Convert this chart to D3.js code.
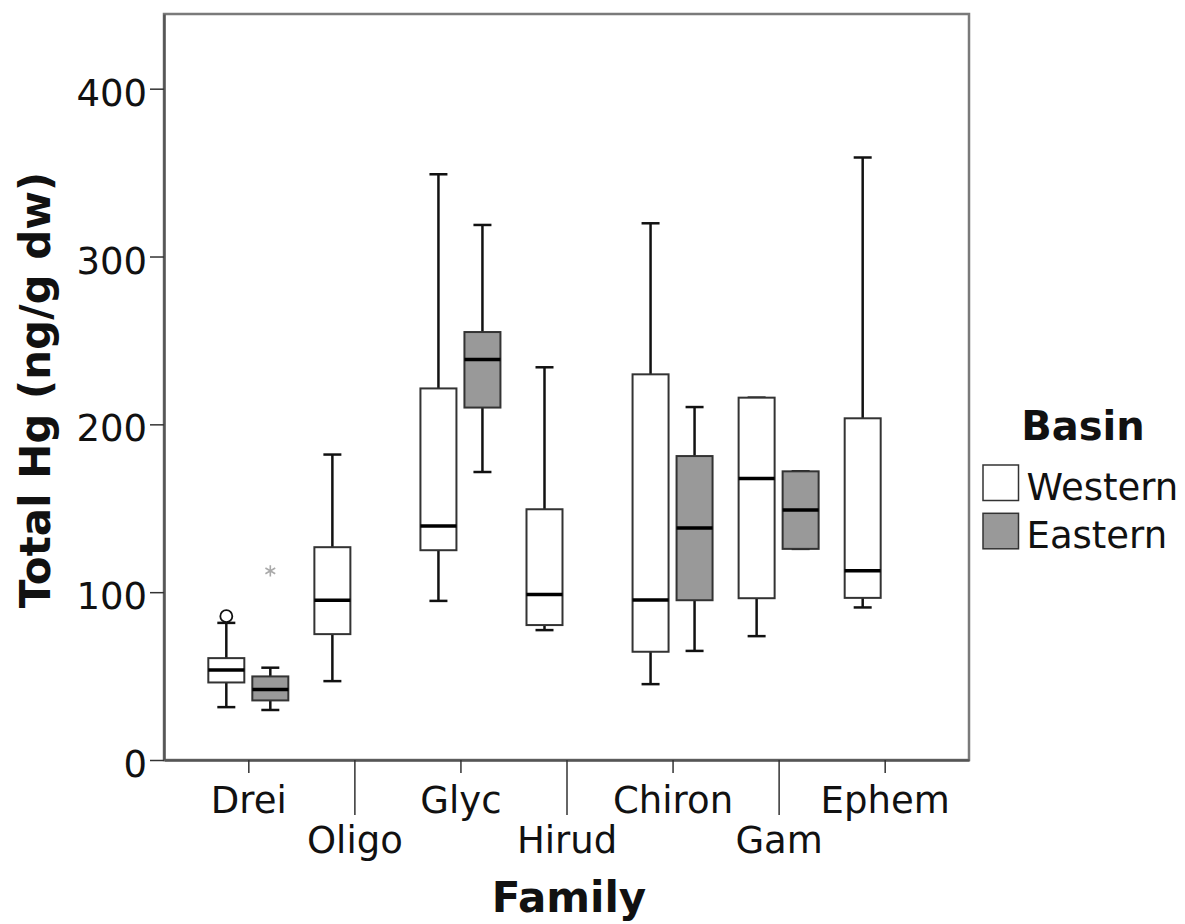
<!DOCTYPE html>
<html>
<head>
<meta charset="utf-8">
<script src="https://cdn.jsdelivr.net/npm/d3@7"></script>
<style>
  html, body { margin: 0; padding: 0; background: #fff; }
  svg { display: block; font-family: "DejaVu Sans", Verdana, sans-serif; }
</style>
</head>
<body>
<svg id="chart" width="1185" height="924"></svg>
<script>
// Total Hg by invertebrate family and basin (box plot summaries)
const categories = ["Drei", "Oligo", "Glyc", "Hirud", "Chiron", "Gam", "Ephem"];
const basins = ["Western", "Eastern"];
const yTicks = [0, 100, 200, 300, 400];

// one entry per box
const boxFamily   = ["Drei", "Drei", "Oligo", "Glyc", "Glyc", "Hirud", "Chiron", "Chiron", "Gam", "Gam", "Ephem"];
const boxBasin    = ["Western", "Eastern", "Western", "Western", "Eastern", "Western", "Western", "Eastern", "Western", "Eastern", "Western"];
const whiskerLow  = [31.5, 29.8, 47.0,  94.8, 171.6,  77.4,  45.2,  65.0,  73.8, 125.8,  90.9];
const q1          = [46.2, 35.5, 75.0, 125.0, 210.0,  80.4,  64.5,  95.2,  96.4, 125.8,  96.6];
const median      = [53.6, 42.0, 95.2, 139.5, 238.7,  98.6,  95.4, 138.3, 167.7, 149.0, 112.7];
const q3          = [60.7, 49.8, 126.8, 221.4, 255.0, 149.4, 229.8, 181.1, 215.9, 172.0, 203.6];
const whiskerHigh = [81.7, 55.0, 182.0, 349.0, 318.8, 234.0, 319.8, 210.3, 215.9, 172.0, 359.0];

// points beyond the whiskers
const outlierFamily = ["Drei", "Drei"];
const outlierBasin  = ["Western", "Eastern"];
const outlierValue  = [85.7, 112.7];
const outlierKind   = ["outlier", "extreme"];

const basinFill = { Western: "#ffffff", Eastern: "#999999" };

const svg = d3.select("#chart");
const plotLeft = 164, plotRight = 969, plotTop = 14, plotBottom = 760;

const x = d3.scalePoint().domain(categories).range([plotLeft, plotRight]).padding(0.795);
const xSub = d3.scaleBand().domain(basins).range([-44, 44])
  .paddingInner(1 - 36 / 44).paddingOuter(0.0909);
const y = d3.scaleLinear().domain([0, 444.5]).range([plotBottom, plotTop]);

svg.append("rect").attr("width", 1185).attr("height", 924).attr("fill", "#fff");

// plot frame
svg.append("rect")
  .attr("x", plotLeft).attr("y", plotTop)
  .attr("width", plotRight - plotLeft).attr("height", plotBottom - plotTop)
  .attr("fill", "none").attr("stroke", "#7a7a7a").attr("stroke-width", 2.5);

// y axis
const yAxis = svg.append("g")
  .attr("transform", `translate(${plotLeft},0)`)
  .call(d3.axisLeft(y).tickValues(yTicks).tickSize(14).tickSizeOuter(0).tickPadding(3));
yAxis.select(".domain").attr("stroke", "#555").attr("stroke-width", 2.5);
yAxis.selectAll(".tick line").attr("stroke", "#333").attr("stroke-width", 1.5);
yAxis.selectAll(".tick text")
  .attr("font-size", 37).attr("fill", "#111")
  .attr("font-family", "DejaVu Sans").attr("dy", "0.45em");

// x axis with staggered labels
const xAxis = svg.append("g")
  .attr("transform", `translate(0,${plotBottom})`)
  .call(d3.axisBottom(x).tickSizeOuter(0));
xAxis.select(".domain").attr("stroke", "#555").attr("stroke-width", 2.5);
xAxis.selectAll(".tick line")
  .attr("stroke", "#333").attr("stroke-width", 1.5)
  .attr("y2", (d, i) => i % 2 === 0 ? 13 : 55);
xAxis.selectAll(".tick text")
  .attr("font-size", 37).attr("fill", "#111")
  .attr("font-family", "DejaVu Sans")
  .attr("dy", 0)
  .attr("y", (d, i) => i % 2 === 0 ? 52.7 : 93);

// boxes
const boxes = boxFamily.map((f, i) => ({
  family: f, basin: boxBasin[i],
  lo: whiskerLow[i], q1: q1[i], med: median[i], q3: q3[i], hi: whiskerHigh[i]
}));
const bw = xSub.bandwidth();
const capW = bw / 2;
const cxOf = d => x(d.family) + xSub(d.basin) + bw / 2;

const g = svg.append("g");
const bx = g.selectAll("g.box").data(boxes).join("g").attr("class", "box");

// whiskers
bx.append("line")
  .attr("x1", cxOf).attr("x2", cxOf)
  .attr("y1", d => y(d.hi)).attr("y2", d => y(d.q3))
  .attr("stroke", "#111").attr("stroke-width", 2.5);
bx.append("line")
  .attr("x1", cxOf).attr("x2", cxOf)
  .attr("y1", d => y(d.q1)).attr("y2", d => y(d.lo))
  .attr("stroke", "#111").attr("stroke-width", 2.5);
bx.append("line")
  .attr("x1", d => cxOf(d) - capW / 2).attr("x2", d => cxOf(d) + capW / 2)
  .attr("y1", d => y(d.hi)).attr("y2", d => y(d.hi))
  .attr("stroke", "#111").attr("stroke-width", 2.5);
bx.append("line")
  .attr("x1", d => cxOf(d) - capW / 2).attr("x2", d => cxOf(d) + capW / 2)
  .attr("y1", d => y(d.lo)).attr("y2", d => y(d.lo))
  .attr("stroke", "#111").attr("stroke-width", 2.5);

// interquartile box
bx.append("rect")
  .attr("x", d => cxOf(d) - bw / 2).attr("width", bw)
  .attr("y", d => y(d.q3)).attr("height", d => y(d.q1) - y(d.q3))
  .attr("fill", d => basinFill[d.basin])
  .attr("stroke", "#333").attr("stroke-width", 2);

// median
bx.append("line")
  .attr("x1", d => cxOf(d) - bw / 2).attr("x2", d => cxOf(d) + bw / 2)
  .attr("y1", d => y(d.med)).attr("y2", d => y(d.med))
  .attr("stroke", "#000").attr("stroke-width", 3.5);

// outliers and extremes
const outs = outlierValue.map((v, i) => ({
  family: outlierFamily[i], basin: outlierBasin[i], value: v, kind: outlierKind[i]
}));
outs.forEach(o => {
  const cx = cxOf(o), cy = y(o.value);
  if (o.kind === "outlier") {
    g.append("circle").attr("cx", cx).attr("cy", cy).attr("r", 6)
      .attr("fill", "#fff").attr("stroke", "#111").attr("stroke-width", 1.8);
  } else {
    g.append("path")
      .attr("d", d3.symbol(d3.symbolAsterisk, 90)())
      .attr("transform", `translate(${cx},${cy})`)
      .attr("fill", "none").attr("stroke", "#aaa").attr("stroke-width", 1.6);
  }
});

// axis titles
svg.append("text")
  .attr("transform", "translate(50,390) rotate(-90)")
  .attr("text-anchor", "middle")
  .attr("font-size", 42).attr("font-weight", "bold").attr("fill", "#111")
  .text("Total Hg (ng/g dw)");
svg.append("text")
  .attr("x", 569).attr("y", 912)
  .attr("text-anchor", "middle")
  .attr("font-size", 42).attr("font-weight", "bold").attr("fill", "#111")
  .text("Family");

// legend
const legend = svg.append("g");
legend.append("text")
  .attr("x", 1083).attr("y", 440).attr("text-anchor", "middle")
  .attr("font-size", 40).attr("font-weight", "bold").attr("fill", "#111")
  .text("Basin");
const items = legend.selectAll("g.item").data(basins).join("g")
  .attr("class", "item")
  .attr("transform", (d, i) => `translate(983,${465 + i * 48.3})`);
items.append("rect")
  .attr("width", 35.5).attr("height", 35.5)
  .attr("fill", d => basinFill[d]).attr("stroke", "#333").attr("stroke-width", 1.5);
items.append("text")
  .attr("x", 43.5).attr("y", 35)
  .attr("font-size", 37).attr("fill", "#111")
  .text(d => d);
</script>
</body>
</html>
